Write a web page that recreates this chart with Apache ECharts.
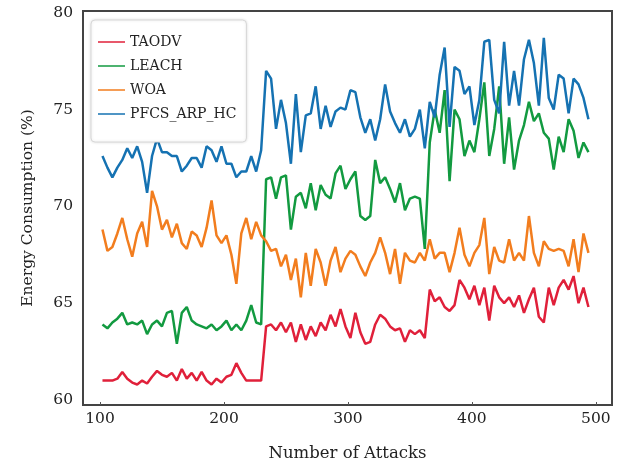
<!DOCTYPE html>
<html>
<head>
<meta charset="utf-8">
<script src="https://cdn.jsdelivr.net/npm/echarts@6/dist/echarts.min.js"></script>
<style>
    html, body { margin: 0; padding: 0; background: #fff; }
    #chart { width: 629px; height: 468px; }
</style>
</head>
<body>
<div id="chart"></div>
<script>
var attacks = [
    102, 106, 110, 114, 118, 122, 126, 130, 134, 138, 142, 146, 150, 154, 158, 162, 166,
    170, 174, 178, 182, 186, 190, 194, 198, 202, 206, 210, 214, 218, 222, 226, 230,
    234, 238, 242, 246, 250, 254, 258, 262, 266, 270, 274, 278, 282, 286, 290, 294, 298,
    302, 306, 310, 314, 318, 322, 326, 330, 334, 338, 342, 346, 350, 354, 358, 362,
    366, 370, 374, 378, 382, 386, 390, 394, 398, 402, 406, 410, 414, 418, 422, 426, 430,
    434, 438, 442, 446, 450, 454, 458, 462, 466, 470, 474, 478, 482, 486, 490, 494
];

var taodv = [
    61.0, 61.0, 61.0, 61.1, 61.45, 61.1, 60.9, 60.8, 61.0, 60.85, 61.2, 61.5, 61.3, 61.2, 61.4, 61.0, 61.6,
    61.1, 61.4, 61.0, 61.45, 61.0, 60.8, 61.1, 60.9, 61.2, 61.3, 61.9, 61.4, 61.0, 61.0, 61.0, 61.0,
    63.8, 63.9, 63.6, 64.0, 63.5, 64.0, 63.0, 63.9, 63.1, 63.8, 63.3, 64.0, 63.6, 64.4, 63.8, 64.7, 63.8,
    63.2, 64.5, 63.5, 62.9, 63.0, 63.9, 64.4, 64.2, 63.8, 63.6, 63.7, 63.0, 63.6, 63.4, 63.6, 63.2,
    65.7, 65.1, 65.3, 64.8, 64.6, 64.9, 66.2, 65.8, 65.2, 65.9, 64.9, 65.8, 64.1, 65.9, 65.3, 65.0, 65.3,
    64.8, 65.4, 64.5, 65.2, 65.8, 64.3, 64.0, 65.8, 64.9, 65.8, 66.2, 65.7, 66.4, 65.0, 65.8, 64.8
];

var leach = [
    63.9, 63.7, 64.0, 64.2, 64.5, 63.9, 64.0, 63.9, 64.1, 63.4, 63.9, 64.1, 63.8, 64.5, 64.6, 62.9, 64.5,
    64.8, 64.1, 63.9, 63.8, 63.7, 63.9, 63.6, 63.8, 64.1, 63.6, 63.9, 63.6, 64.1, 64.9, 64.0, 63.9,
    71.4, 71.5, 70.4, 71.5, 71.6, 68.8, 70.5, 70.7, 69.9, 71.2, 69.8, 71.1, 70.6, 70.4, 71.7, 72.1, 70.9,
    71.4, 71.8, 69.5, 69.3, 69.5, 72.4, 71.2, 71.5, 70.9, 70.2, 71.2, 69.8, 70.4, 70.5, 70.4, 67.8,
    73.3, 75.0, 73.8, 76.0, 71.3, 75.0, 74.5, 72.6, 73.4, 72.8, 74.5, 76.4, 72.6, 74.0, 76.2, 72.2, 74.6,
    71.9, 73.4, 74.2, 75.4, 74.4, 74.8, 73.8, 73.5, 71.9, 73.6, 72.8, 74.5, 73.9, 72.5, 73.3, 72.8
];

var woa = [
    68.8, 67.7, 67.9, 68.6, 69.4, 68.3, 67.4, 68.6, 69.2, 67.9, 70.8, 70.0, 68.8, 69.3, 68.4, 69.1, 68.1,
    67.8, 68.7, 68.5, 67.9, 68.9, 70.3, 68.5, 68.1, 68.5, 67.5, 66.0, 68.6, 69.4, 68.3, 69.2, 68.5,
    68.2, 67.7, 67.8, 66.9, 67.5, 66.2, 67.3, 65.3, 67.6, 65.9, 67.8, 67.1, 65.9, 67.2, 67.9, 66.6, 67.3,
    67.7, 67.5, 66.9, 66.4, 67.1, 67.6, 68.4, 67.6, 66.5, 67.8, 66.0, 67.6, 67.2, 67.1, 67.6, 67.2,
    68.3, 67.3, 67.6, 67.6, 66.6, 67.6, 68.9, 67.5, 66.9, 67.6, 68.0, 69.4, 66.5, 67.9, 67.2, 67.1, 68.3,
    67.2, 67.6, 67.2, 69.5, 67.6, 66.9, 68.2, 67.8, 67.7, 67.8, 67.7, 66.9, 68.3, 66.6, 68.6, 67.6
];

var pfcs = [
    72.6, 72.0, 71.5, 72.0, 72.4, 73.0, 72.5, 73.1, 72.3, 70.7, 72.6, 73.5, 72.8, 72.8, 72.6, 72.6, 71.8,
    72.1, 72.5, 72.5, 72.0, 73.1, 72.9, 72.3, 73.1, 72.2, 72.2, 71.5, 71.8, 71.8, 72.6, 71.8, 72.9,
    77.0, 76.6, 74.0, 75.5, 74.3, 72.2, 75.8, 72.8, 74.7, 74.8, 76.2, 74.0, 75.2, 74.1, 74.9, 75.1, 75.0,
    76.0, 75.9, 74.6, 73.8, 74.5, 73.4, 74.5, 76.3, 74.9, 74.3, 73.8, 74.5, 73.6, 74.0, 75.0, 73.0,
    75.4, 74.6, 76.8, 78.2, 74.1, 77.2, 77.0, 75.8, 76.2, 74.2, 75.5, 78.5, 78.6, 75.5, 74.8, 78.5, 75.2,
    77.0, 75.2, 77.6, 78.6, 77.4, 75.2, 78.7, 75.6, 75.0, 76.8, 76.6, 74.8, 76.6, 76.3, 75.6, 74.5
];

var xTicks = [100, 200, 300, 400, 500];
var yTicks = [60, 65, 70, 75, 80];

var names = ['TAODV', 'LEACH', 'WOA', 'PFCS_ARP_HC'];
var colors = ['#e0203a', '#129a40', '#f27d1e', '#1572b2'];
var values = [taodv, leach, woa, pfcs];

var font = 'DejaVu Serif';

function pairs(ys) {
    return attacks.map(function (x, i) {
        return [x, ys[i]];
    });
}

var chart = echarts.init(document.getElementById('chart'));

chart.setOption({
    animation: false,
    backgroundColor: '#fff',
    grid: {
        left: 83,
        right: 17,
        top: 11,
        bottom: 63,
        show: true,
        borderColor: '#444',
        borderWidth: 2
    },
    legend: {
        orient: 'vertical',
        left: 91,
        top: 20,
        padding: [15, 10, 21, 7],
        itemWidth: 27,
        itemHeight: 14,
        itemGap: 10,
        icon: 'path://M0,0H27V1.5H0Z',
        backgroundColor: '#fff',
        borderColor: '#d8d8d8',
        borderWidth: 1,
        borderRadius: 4,
        shadowColor: 'rgba(0,0,0,0.12)',
        shadowBlur: 3,
        textStyle: { fontFamily: font, fontSize: 14, color: '#222' },
        data: names
    },
    xAxis: {
        type: 'value',
        min: 86.3,
        max: 513,
        name: 'Number of Attacks',
        nameLocation: 'middle',
        nameGap: 40,
        nameTextStyle: { fontFamily: font, fontSize: 16.5, color: '#222' },
        axisLine: { show: false },
        splitLine: { show: false },
        axisTick: {
            customValues: xTicks,
            inside: true,
            length: 3,
            lineStyle: { color: '#555' }
        },
        axisLabel: {
            customValues: xTicks,
            margin: 6,
            fontFamily: font,
            fontSize: 15.5,
            color: '#222'
        }
    },
    yAxis: {
        type: 'value',
        min: 59.74,
        max: 80.09,
        name: 'Energy Consumption (%)',
        nameLocation: 'middle',
        nameGap: 47,
        nameTextStyle: { fontFamily: font, fontSize: 15.5, color: '#222' },
        axisLine: { show: false },
        splitLine: { show: false },
        axisTick: { show: false },
        axisLabel: {
            customValues: yTicks,
            margin: 10,
            fontFamily: font,
            fontSize: 15.5,
            color: '#222'
        }
    },
    series: names.map(function (name, k) {
        return {
            name: name,
            type: 'line',
            symbol: 'none',
            color: colors[k],
            lineStyle: { width: 2.5, color: colors[k] },
            data: pairs(values[k])
        };
    })
});
</script>
</body>
</html>
